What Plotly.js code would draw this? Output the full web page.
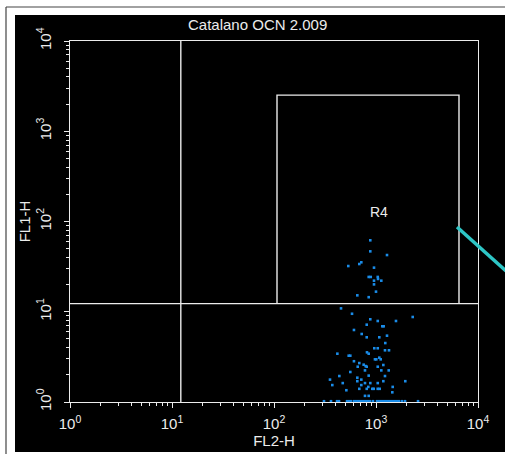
<!DOCTYPE html>
<html>
<head>
<meta charset="utf-8">
<script src="https://cdn.plot.ly/plotly-3.0.1.min.js"></script>
<style>html,body{margin:0;padding:0;background:#fff;}#chart{width:505px;height:454px;}</style>
</head>
<body>
<div id="chart"></div>
<script>
// ---- Data ----
const chartTitle = "Catalano OCN 2.009";
const xAxisTitle = "FL2-H";
const yAxisTitle = "FL1-H";
const decadeVals = [1, 10, 100, 1000, 10000];
const decadeText = ["10<sup>0</sup>", "10<sup>1</sup>", "10<sup>2</sup>", "10<sup>3</sup>", "10<sup>4</sup>"];

// quadrant markers
const quadX = 12.2;
const quadY = 12.3;
// region R4 gate
const r4Name = "R4";
const r4X = [107, 6510];
const r4Y = [12.3, 2512];
const r4LabelX = 1070;
const r4LabelY = 126;

// events inside R4
const fl2R4 = [879, 879, 1282, 535, 686, 718, 956, 848, 888, 1040, 1047, 956, 1127, 956, 1000, 656, 848];
const fl1R4 = [61.9, 46.7, 42.5, 32.1, 33.8, 35.3, 30.8, 24.3, 24.3, 24.3, 23.1, 22.1, 22.1, 20.1, 16.7, 15.2, 14.5];

// events below the quadrant line
const fl2Low = [454, 582, 2291, 879, 1040, 811, 1570, 1153, 1189, 608, 724, 1282, 811, 1077, 1233,
  418, 816, 848, 962, 1040, 1225, 1341, 540, 560, 977, 1007, 1077, 1112, 608, 686, 757, 792, 811,
  1180, 662, 1040, 780, 1127, 1333, 560, 848, 1225, 437, 656, 354, 718, 656, 1180, 1937, 780, 879,
  1040, 472, 373, 718, 1458, 686, 811, 841, 920, 949, 1040, 1087, 512, 1445, 780, 848];
const fl1Low = [10.9, 9.5, 8.75, 8.25, 7.9, 7.19, 7.9, 6.9, 6.9, 6.28, 5.67, 5.43, 5.21, 5.21, 4.5,
  3.43, 3.55, 3.43, 3.94, 3.94, 3.74, 3.74, 3.26, 3.26, 2.97, 2.97, 3.1, 2.97, 2.83, 2.7, 2.59, 2.5, 2.46,
  2.57, 2.46, 2.46, 2.24, 2.24, 2.24, 2.15, 1.96, 1.94, 1.94, 1.86, 1.77, 1.77, 1.7, 1.7, 1.7, 1.62, 1.62,
  1.62, 1.62, 1.54, 1.54, 1.47, 1.40, 1.40, 1.47, 1.40, 1.40, 1.40, 1.40, 1.35, 1.28, 1.17, 1.17];

// events piled on the lower edge
const fl2Base = [309, 362, 415, 434, 520, 543, 568, 608, 637, 666, 697, 729, 763, 798, 835, 874, 935,
  1023, 1070, 1120, 1172, 1226, 1282, 1341, 1403, 1468, 1536, 1607, 1681, 1798, 1925, 2582];
const fl1Base = [1.02, 1.02, 1.02, 1.02, 1.02, 1.02, 1.02, 1.02, 1.02, 1.02, 1.02, 1.02, 1.02, 1.02, 1.02, 1.02, 1.02,
  1.02, 1.02, 1.02, 1.02, 1.02, 1.02, 1.02, 1.02, 1.02, 1.02, 1.02, 1.02, 1.02, 1.02, 1.02];

// ---- Styling ----
const W = 505, H = 454;
const M = {l: 70, r: 27, t: 41, b: 52};
const pw = W - M.l - M.r, ph = H - M.t - M.b;
const px = v => (v - M.l) / pw;          // pixel -> paper x
const py = v => (H - M.b - v) / ph;      // pixel -> paper y
const FONT = "Liberation Sans, Arial, sans-serif";
const WHITE = "#ececec";
const DOT = "#1a8ce8";

const minorVals = [];
for (let d = 0; d < 4; d++) for (let m = 2; m <= 9; m++) minorVals.push(m * Math.pow(10, d));

const dotStyle = {color: DOT, size: 2.6, symbol: "square", line: {width: 0}};
const lineStyle = {color: WHITE, width: 1.4};

const traces = [
  {x: [quadX, quadX], y: [1, 10000], mode: "lines", line: lineStyle, hoverinfo: "skip"},
  {x: [1, 10000], y: [quadY, quadY], mode: "lines", line: lineStyle, hoverinfo: "skip"},
  {x: [r4X[0], r4X[0], r4X[1], r4X[1]], y: [r4Y[0], r4Y[1], r4Y[1], r4Y[0]], mode: "lines", line: lineStyle, hoverinfo: "skip"},
  {x: fl2R4, y: fl1R4, mode: "markers", marker: dotStyle},
  {x: fl2Low, y: fl1Low, mode: "markers", marker: dotStyle},
  {x: fl2Base, y: fl1Base, mode: "markers", marker: dotStyle}
];

const axisCommon = {
  type: "log", range: [0, 4], showgrid: false, zeroline: false,
  showline: true, linecolor: WHITE, linewidth: 1.4, mirror: true,
  ticks: "outside", ticklen: 5, tickwidth: 1, tickcolor: WHITE,
  tickmode: "array", tickvals: decadeVals, ticktext: decadeText,
  tickfont: {family: FONT, size: 15, color: WHITE},
  minor: {ticks: "outside", ticklen: 3, tickwidth: 1, tickcolor: WHITE, tickmode: "array", tickvals: minorVals, showgrid: false}
};

const layout = {
  width: W, height: H, autosize: false,
  margin: M,
  paper_bgcolor: "#ffffff", plot_bgcolor: "#000000",
  showlegend: false,
  font: {family: FONT, color: WHITE},
  xaxis: Object.assign({}, axisCommon, {
    ticklabelstandoff: 3,
    title: {text: xAxisTitle, font: {family: FONT, size: 15, color: WHITE}, standoff: 0}
  }),
  yaxis: Object.assign({}, axisCommon, {
    tickangle: -90,
    ticklabelstandoff: 7,
    title: {text: yAxisTitle, font: {family: FONT, size: 15, color: WHITE}, standoff: 0}
  }),
  shapes: [
    {type: "rect", xref: "paper", yref: "paper", x0: px(15), x1: px(506), y0: py(452), y1: py(15),
     fillcolor: "#000000", line: {width: 0}, layer: "below"},
    {type: "line", xref: "paper", yref: "paper", x0: px(6), x1: px(6), y0: py(7), y1: py(454),
     line: {color: "#444", width: 1.2}},
    {type: "line", xref: "paper", yref: "paper", x0: px(6), x1: px(506), y0: py(7), y1: py(7),
     line: {color: "#444", width: 1.2}},
    {type: "line", xref: "paper", yref: "paper", x0: px(457), x1: px(506), y0: py(227), y1: py(271),
     line: {color: "#2ec6c6", width: 3.5}}
  ],
  annotations: [
    {text: chartTitle, xref: "paper", yref: "paper", x: px(257), y: py(25), xanchor: "center", yanchor: "middle",
     showarrow: false, font: {family: FONT, size: 15, color: WHITE}},
    {text: r4Name, xref: "x", yref: "y", x: Math.log10(r4LabelX), y: Math.log10(r4LabelY), xanchor: "center", yanchor: "middle",
     showarrow: false, font: {family: FONT, size: 14, color: WHITE}}
  ]
};

Plotly.newPlot("chart", traces, layout, {staticPlot: true, displayModeBar: false});
</script>
</body>
</html>
